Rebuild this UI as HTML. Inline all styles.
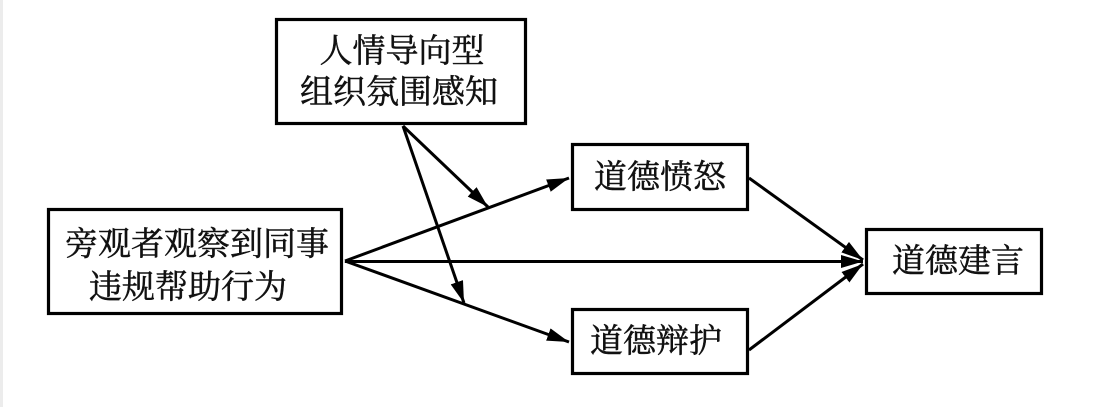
<!DOCTYPE html>
<html>
<head>
<meta charset="utf-8">
<style>
  html,body{margin:0;padding:0;background:#fff;}
  body{width:1111px;height:407px;overflow:hidden;position:relative;}
  .bar{position:absolute;left:0;top:0;width:3px;height:407px;background:#ececec;}
  svg{position:absolute;left:0;top:0;}
  text{font-family:"Noto Serif CJK SC","Liberation Serif",serif;font-size:33px;fill:#111;stroke:#111;stroke-width:0.5px;}
</style>
</head>
<body>
<div class="bar"></div>
<svg width="1111" height="407" viewBox="0 0 1111 407" xmlns="http://www.w3.org/2000/svg">
  <defs>
    <marker id="ah" markerUnits="userSpaceOnUse" markerWidth="24" markerHeight="16" refX="22" refY="8" orient="auto">
      <path d="M0,1.5 L22,8 L0,14.5 Z" fill="#000"/>
    </marker>
  </defs>

  <g fill="none" stroke="#000" stroke-width="3.2">
    <rect x="276.5" y="19.5" width="249" height="104"/>
    <rect x="48.5" y="209.5" width="293" height="104"/>
    <rect x="572.5" y="144.5" width="175" height="65"/>
    <rect x="572.5" y="309.5" width="175" height="64"/>
    <rect x="866.5" y="229.5" width="175" height="64"/>
  </g>

  <g stroke="#000" stroke-width="3" fill="none">
    <line x1="345" y1="261" x2="569" y2="178" marker-end="url(#ah)"/>
    <line x1="345" y1="261.5" x2="863" y2="261.5" marker-end="url(#ah)"/>
    <line x1="345" y1="261" x2="569" y2="342" marker-end="url(#ah)"/>
    <line x1="403" y1="126" x2="488" y2="207" marker-end="url(#ah)"/>
    <line x1="403" y1="126" x2="464" y2="303" marker-end="url(#ah)"/>
    <line x1="749" y1="178" x2="863" y2="260" marker-end="url(#ah)"/>
    <line x1="749" y1="350" x2="863" y2="264" marker-end="url(#ah)"/>
  </g>

  <text x="402" y="62" text-anchor="middle">人情导向型</text>
  <text x="399" y="103" text-anchor="middle">组织氛围感知</text>
  <text x="197" y="255" text-anchor="middle">旁观者观察到同事</text>
  <text x="188" y="298" text-anchor="middle">违规帮助行为</text>
  <text x="660" y="188" text-anchor="middle">道德愤怒</text>
  <text x="656" y="352" text-anchor="middle">道德辩护</text>
  <text x="958" y="272" text-anchor="middle">道德建言</text>
</svg>
</body>
</html>
